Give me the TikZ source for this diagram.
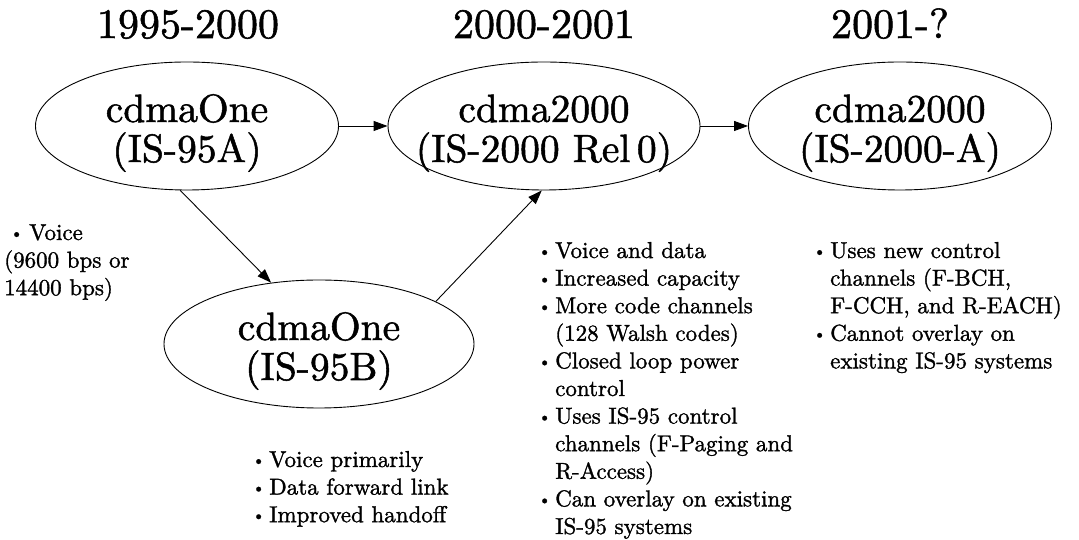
\documentclass[tikz,border=0pt]{standalone}
\usepackage{fontspec}
\setmainfont{lmroman10-regular.otf}[FakeBold=1.3]
\usetikzlibrary{arrows.meta,shapes.geometric}
\newcommand\smbul{\raisebox{1.6pt}{\scalebox{0.72}{\textbullet}}}
\newcommand\mybul[1]{\makebox[#1][l]{\hspace{1pt}\smbul}}
\begin{document}
\begin{tikzpicture}[x=1pt,y=1pt,
  era/.style={ellipse, draw, line width=0.9pt, minimum height=128pt, inner sep=0pt},
  ttl/.style={anchor=base, inner sep=0pt, font=\fontsize{42}{50}\selectfont},
  etxt/.style={anchor=base, inner sep=0pt, font=\fontsize{39.5}{44}\selectfont},
  blk/.style={anchor=base west, inner sep=0pt, font=\fontsize{23}{27.6}\selectfont},
  arr/.style={-{Triangle[length=14pt,width=10pt]}, line width=0.9pt}
]
\useasboundingbox (0,0) rectangle (1079,540);

% era titles
\node[ttl] (t1) at (188,502) {1995-2000};
\node[ttl] (t2) at (544,502) {2000-2001};
\node[ttl] (t3) at (890,502) {2001-?};

% ellipses
\node[era, minimum width=303pt] (e1) at (187,414) {};
\node[etxt] (e1a) at ([yshift=4pt]e1.center) {cdmaOne};
\node[etxt] (e1b) at ([yshift=-36pt]e1.center) {(IS-95A)};

\node[era, minimum width=312pt] (e2) at (544,414) {};
\node[etxt] (e2a) at ([yshift=4pt]e2.center) {cdma2000};
\node[etxt] (e2b) at ([yshift=-36pt]e2.center) {(IS-2000 Rel\,0)};

\node[era, minimum width=303pt] (e3) at (900,414) {};
\node[etxt] (e3a) at ([yshift=4pt]e3.center) {cdma2000};
\node[etxt] (e3b) at ([yshift=-36pt]e3.center) {(IS-2000-A)};

\node[era, minimum width=310pt] (e4) at (319,196) {};
\node[etxt] (e4a) at ([yshift=4pt]e4.center) {cdmaOne};
\node[etxt] (e4b) at ([yshift=-36pt]e4.center) {(IS-95B)};

% connectors
\draw[arr] (e1.east) -- (e2.west);
\draw[arr] (e2.east) -- (e3.west);
\draw[arr] (e1.264) -- (e4.128);
\draw[arr] (e4.20) -- (e2.268);

% feature lists
\node[blk] (b1) at (4,300) {\begin{tabular}[t]{@{}l@{}}
\makebox[25pt][l]{\hspace{6pt}\smbul}Voice\\
(9600 bps or\\
14400 bps)
\end{tabular}};

\node[blk] (b2) at (537,282) {\begin{tabular}[t]{@{}l@{}}
\mybul{18pt}Voice and data\\
\mybul{18pt}Increased capacity\\
\mybul{18pt}More code channels\\
\hspace{18pt}(128 Walsh codes)\\
\mybul{18pt}Closed loop power\\
\hspace{18pt}control\\
\mybul{18pt}Uses IS-95 control\\
\hspace{18pt}channels (F-Paging and\\
\hspace{18pt}R-Access)\\
\mybul{18pt}Can overlay on existing\\
\hspace{18pt}IS-95 systems
\end{tabular}};

\node[blk] (b3) at (812,282) {\begin{tabular}[t]{@{}l@{}}
\mybul{18pt}Uses new control\\
\hspace{18pt}channels (F-BCH,\\
\hspace{18pt}F-CCH, and R-EACH)\\
\mybul{18pt}Cannot overlay on\\
\hspace{18pt}existing IS-95 systems
\end{tabular}};

\node[blk] (b4) at (251,73) {\begin{tabular}[t]{@{}l@{}}
\mybul{18pt}Voice primarily\\
\mybul{18pt}Data forward link\\
\mybul{18pt}Improved handoff
\end{tabular}};
\end{tikzpicture}
\end{document}
